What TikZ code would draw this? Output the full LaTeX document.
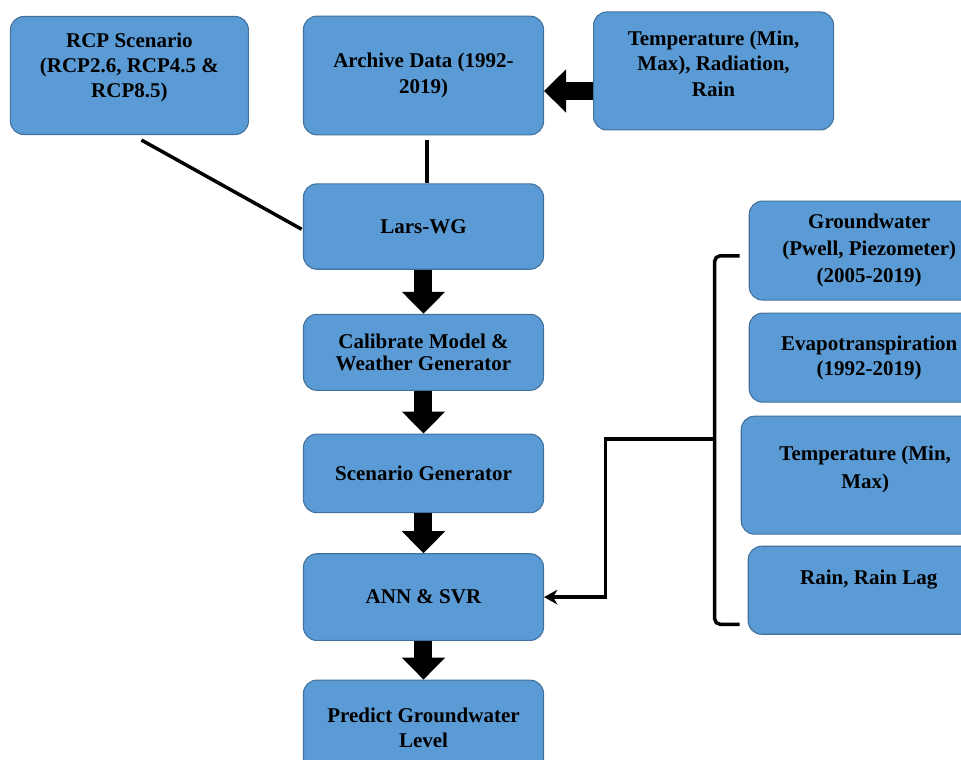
\documentclass[tikz,border=0pt]{standalone}
\usepackage{fontspec}
\setmainfont{Liberation Serif}
\usetikzlibrary{positioning, graphs, arrows.meta}
\definecolor{boxfill}{HTML}{5B9BD5}
\definecolor{boxedge}{HTML}{41719C}

\begin{document}
\begin{tikzpicture}[node distance=30pt,
	box/.style={draw=boxedge, fill=boxfill, line width=0.8pt, rounded corners=10pt,
		align=center, minimum width=180pt, inner sep=2pt,
		font=\fontsize{15.75}{19}\selectfont\bfseries},
	fat/.style={line width=13.5pt, -{Triangle[width=31.5pt, length=16.5pt]}},
	link/.style={line width=2.6pt}]
		\useasboundingbox (-317.625pt,56.625pt) rectangle ++(720.75pt,-570pt);
		\clip (-317.625pt,56.625pt) rectangle ++(720.75pt,-570pt);

		\node[box, minimum height=89pt]                        (archive) at (0,0) {Archive Data (1992-\\2019)};
		\node[box, minimum width=178.5pt, minimum height=88.5pt, text depth=15.5pt, left=40.5pt of archive] (rcp) {RCP Scenario\\(RCP2.6, RCP4.5 \&\\RCP8.5)};
		\node[box, minimum height=88.5pt, text depth=11pt, right=36.75pt of archive, yshift=3.4pt] (tin) {Temperature (Min,\\Max), Radiation,\\Rain};
		\node[box, minimum height=64pt, below=36pt of archive]  (lars)  {Lars-WG};
		\node[box, minimum height=57pt, below=33pt of lars, font=\fontsize{15.75}{16.5}\selectfont\bfseries] (calib) {Calibrate Model \&\\Weather Generator};
		\node[box, minimum height=59pt, below=32pt of calib]    (scen)  {Scenario Generator};
		\node[box, minimum height=65pt, below=30pt of scen]     (ann)   {ANN \& SVR};
		\node[box, minimum height=71pt, below=29pt of ann]      (pred)  {Predict Groundwater\\Level};

		\node[box, minimum height=74.25pt, right=153.5pt of lars, yshift=-18pt, font=\fontsize{15.75}{20}\selectfont\bfseries] (gw) {Groundwater\\(Pwell, Piezometer)\\(2005-2019)};
		\node[box, minimum height=66.75pt, below=9pt of gw.south east, anchor=north east]   (evap) {Evapotranspiration\\(1992-2019)};
		\node[box, minimum width=186pt, minimum height=88.5pt, text depth=12.5pt, below=9.75pt of evap.south east, anchor=north east, font=\fontsize{15.75}{21}\selectfont\bfseries] (tmm) {Temperature (Min,\\Max)};
		\node[box, minimum width=180.75pt, minimum height=66pt, text depth=20pt, below=8.25pt of tmm.south east, anchor=north east] (rain) {Rain, Rain Lag};

		\graph[edges=fat]{
			(lars) -- (calib) -- (scen) -- (ann) -- (pred)
		};

		\coordinate (tarr) at ([yshift=-15pt]tin.west);
		\draw[fat] (tarr) -- (tarr -| archive.east);

		\draw[link] ([xshift=9pt,yshift=-3.75pt]rcp.south) -- ([xshift=-1pt,yshift=-2pt]lars.west);
		\draw[link] ([xshift=2.6pt,yshift=-3.75pt]archive.south) -- ([xshift=2.6pt]lars.north);

		% bracket gathering the inputs
		\coordinate (btop) at ([xshift=-6.75pt,yshift=-4pt]gw.west);
		\coordinate (bbot) at ([xshift=-6pt,yshift=-25.5pt]rain.west);
		\coordinate (bmid) at ([xshift=-18.75pt,yshift=-137.25pt]btop);
		\draw[link, rounded corners=4pt] (btop) -| (bmid) |- (bbot);
		\draw[link, -{Stealth[width=11pt, length=10pt]}] (bmid) -| ([xshift=46pt]ann.east) -- (ann.east);
	\end{tikzpicture}
\end{document}
